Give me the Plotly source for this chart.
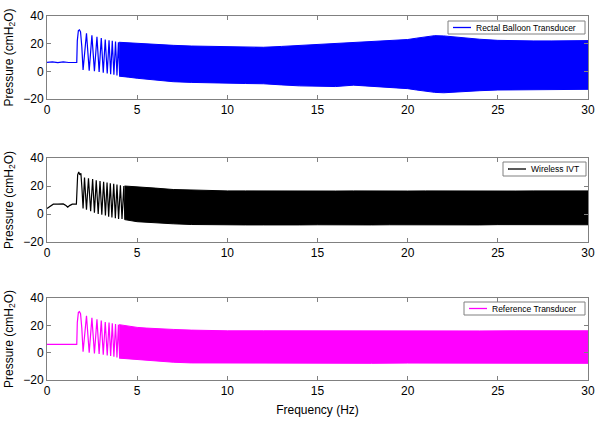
import plotly.graph_objects as go

# ---------------- data ----------------
x_ticks = [0, 5, 10, 15, 20, 25, 30]
y_ticks = [-20, 0, 20, 40]
series_names = ["Rectal Balloon Transducer", "Wireless IVT", "Reference Transducer"]
series_colors = ["#0000ff", "#000000", "#ff00ff"]

# early, resolvable part of each trace (baseline + individual oscillations)
osc1_x = [0, 0.3, 0.6, 0.9, 1.2, 1.5, 1.65, 1.68, 1.74, 1.8, 1.86, 1.93, 2.0, 2.19, 2.34, 2.49, 2.63,
          2.77, 2.89, 3.01, 3.12, 3.23, 3.34, 3.44, 3.53, 3.62, 3.71, 3.80, 3.88, 3.96, 4.03]
osc1_y = [6.5, 6.9, 6.3, 6.8, 6.4, 6.8, 6.5, 22, 29.5, 30, 28.5, 18, 1, 27.5, 0.5, 26, 0,
          25, -0.5, 24, -1, 23, -1.5, 22.5, -2, 22, -2.5, 21.5, -3, 21, -3]
band1_x = [4.0, 4.5, 5, 5.5, 6, 7, 8, 9, 10, 11, 12, 13, 14, 15, 16, 17, 18, 19, 20, 20.5, 21, 21.5,
           22, 22.5, 23, 24, 25, 26, 27, 28, 29, 30]
band1_hi = [21, 20.6, 20.2, 19.8, 19.3, 18.8, 18.3, 18, 17.8, 17.5, 17.4, 18, 18.7, 19.5, 20.2, 20.8,
            21.4, 22, 23, 24, 25, 25.8, 25.6, 25, 24.2, 23.2, 22.4, 22, 22, 22, 22.1, 22.2]
band1_lo = [-3.5, -4.2, -5, -5.8, -6.5, -7.5, -8, -8.5, -8.7, -8.8, -9, -9.8, -10.5, -11, -11, -10,
            -10.5, -11.5, -12.5, -13.5, -14.5, -15.2, -15.5, -15.5, -15, -14, -13.5, -13.2, -13, -13, -13, -13]

osc2_x = [0, 0.15, 0.35, 0.6, 0.9, 1.05, 1.15, 1.25, 1.4, 1.6, 1.63, 1.7, 1.76, 1.82, 1.88, 1.94, 2.0,
          2.08, 2.19, 2.30, 2.42, 2.53, 2.63, 2.73, 2.84, 2.94, 3.04, 3.14, 3.24, 3.33, 3.42, 3.51,
          3.60, 3.70, 3.79, 3.88, 3.97, 4.07, 4.16, 4.26, 4.32]
osc2_y = [4, 5.5, 7, 7, 7.2, 6, 4.8, 6, 7, 7, 7, 28, 30, 28, 29, 18, 4,
          26, 3, 25.5, 2, 25, 1, 24, 0, 23.5, -0.5, 23, -1, 22.5, -2, 22,
          -2.5, 21.5, -3, 21, -3.5, 20.5, -3.5, 20, -4]
band2_x = [4.3, 5, 5.5, 6, 7, 8, 9, 10, 11, 12, 13, 14, 15, 16, 17, 18, 19, 20, 21, 22, 23, 24,
           25, 26, 27, 28, 29, 30]
band2_hi = [20, 19.5, 19, 18.5, 17.5, 17, 16.8, 16.5, 16.5, 16.4, 16.5, 16.3, 16.5, 16.4, 16.5, 16.3,
            16.5, 16.4, 16.5, 16.4, 16.5, 16.4, 16.5, 16.4, 16.5, 16.4, 16.6, 16.5]
band2_lo = [-4, -5.5, -6, -6.5, -7, -7.5, -7.5, -7.8, -7.8, -7.8, -7.6, -7.8, -7.7, -7.8, -7.6, -7.8,
            -7.7, -7.8, -7.6, -7.8, -7.7, -7.8, -7.6, -7.8, -7.7, -7.8, -7.6, -7.7]

osc3_x = [0, 0.5, 1.0, 1.5, 1.65, 1.68, 1.74, 1.8, 1.86, 1.93, 2.0, 2.19, 2.34, 2.49, 2.63,
          2.77, 2.89, 3.01, 3.12, 3.23, 3.34, 3.44, 3.53, 3.62, 3.71, 3.80, 3.88, 3.96, 4.03]
osc3_y = [6, 6, 6, 6, 6, 22, 29.5, 30, 28.5, 18, 0.7, 27, 0, 25.5, -0.5, 24.5, -1, 23.5, -1.5,
          22.5, -2, 22, -2.5, 21.5, -3, 21, -3.5, 20.5, -3.8]
band3_x = [4.0, 4.5, 5, 5.5, 6, 7, 8, 9, 10, 12, 14, 16, 18, 20, 22, 24, 26, 28, 30]
band3_hi = [20.5, 19.3, 18.5, 18, 17.5, 17, 16.5, 16.2, 16, 16, 15.9, 16, 15.9, 16, 16, 15.9, 16, 16, 16]
band3_lo = [-4, -4.5, -5, -5.5, -6, -7, -7.5, -7.6, -7.8, -7.7, -7.8, -7.7, -7.8, -7.6, -7.8, -7.7,
            -7.8, -7.7, -7.8]

osc = [(osc1_x, osc1_y), (osc2_x, osc2_y), (osc3_x, osc3_y)]
bands = [(band1_x, band1_hi, band1_lo), (band2_x, band2_hi, band2_lo), (band3_x, band3_hi, band3_lo)]

# ---------------- figure ----------------
W, H = 602, 424
x_left, x_right = 47, 588
panel_px = [(16, 99), (158, 242), (298, 380)]        # top, bottom pixel rows
legend_px = [(448, 585, 21, 34), (503, 586, 162, 176), (464, 585, 302, 315)]  # l, r, t, b

def px(x):
    return x / W

def py(y):
    return 1 - y / H

fig = go.Figure()
font = dict(family="Liberation Sans, Arial, sans-serif", size=12, color="black")
frame = "#808080"

layout = dict(width=W, height=H, margin=dict(l=0, r=0, t=0, b=0),
              paper_bgcolor="white", plot_bgcolor="white", font=font, showlegend=False)
shapes, annotations = [], []

for i in range(3):
    xa = "x" if i == 0 else f"x{i+1}"
    ya = "y" if i == 0 else f"y{i+1}"
    bx, bhi, blo = bands[i]
    col = series_colors[i]
    # dense oscillation band drawn as filled envelope
    fig.add_trace(go.Scatter(x=list(bx) + list(bx)[::-1], y=list(bhi) + list(blo)[::-1],
                             fill="toself", fillcolor=col, mode="lines",
                             line=dict(color=col, width=1), hoverinfo="skip",
                             xaxis=xa, yaxis=ya))
    ox, oy = osc[i]
    fig.add_trace(go.Scatter(x=ox, y=oy, mode="lines", line=dict(color=col, width=1.2),
                             name=series_names[i], xaxis=xa, yaxis=ya))
    top, bot = panel_px[i]
    axx = dict(domain=[px(x_left), px(x_right)], range=[0, 30], tickvals=x_ticks,
               showline=True, mirror="ticks", linecolor=frame, linewidth=1,
               ticks="inside", ticklen=4, tickcolor=frame, showgrid=False, zeroline=False,
               tickfont=dict(size=12), anchor=ya, automargin=False)
    axy = dict(domain=[py(bot), py(top)], range=[-20, 40], tickvals=y_ticks,
               showline=True, mirror="ticks", linecolor=frame, linewidth=1,
               ticks="inside", ticklen=4, tickcolor=frame, showgrid=False, zeroline=False,
               tickfont=dict(size=12), anchor=xa, automargin=False,
               title=dict(text="Pressure (cmH<sub>2</sub>O)", font=dict(size=12), standoff=7))
    if i == 2:
        axx["title"] = dict(text="Frequency (Hz)", font=dict(size=12), standoff=8)
    layout["xaxis" if i == 0 else f"xaxis{i+1}"] = axx
    layout["yaxis" if i == 0 else f"yaxis{i+1}"] = axy

    # legend box drawn by hand
    l, r, t, b = legend_px[i]
    shapes.append(dict(type="rect", xref="paper", yref="paper", x0=px(l), x1=px(r),
                       y0=py(b), y1=py(t), line=dict(color=frame, width=1), fillcolor="white",
                       layer="above"))
    ym = (t + b) / 2
    shapes.append(dict(type="line", xref="paper", yref="paper", x0=px(l + 5), x1=px(l + 23),
                       y0=py(ym), y1=py(ym), line=dict(color=col, width=1.3), layer="above"))
    annotations.append(dict(text=series_names[i], xref="paper", yref="paper", x=px(l + 26),
                            y=py(ym), xanchor="left", yanchor="middle", showarrow=False,
                            font=dict(size=8.5, color="black")))

layout["shapes"] = shapes
layout["annotations"] = annotations
fig.update_layout(**layout)
fig.write_html("out.html", config={"displayModeBar": False},
               post_script="document.body.style.margin='0';")
